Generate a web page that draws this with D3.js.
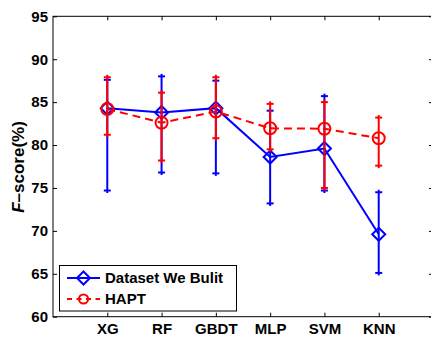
<!DOCTYPE html>
<html><head><meta charset="utf-8">
<script src="https://cdn.jsdelivr.net/npm/d3@7/dist/d3.min.js"></script>
<style>body{margin:0;background:#fff}svg{display:block}text{font-family:Arial,"Liberation Sans",sans-serif;font-weight:bold}</style>
</head><body><svg id="c" width="431" height="337"></svg>
<script>
const categories = ["XG","RF","GBDT","MLP","SVM","KNN"];
const seriesNames = ["Dataset We Bulit","HAPT"];
const ourMean  = [84.3, 83.8, 84.3, 78.6, 79.6, 69.6];
const ourUpper = [87.6, 88.0, 87.5, 84.0, 85.7, 74.5];
const ourLower = [74.7, 76.8, 76.7, 73.2, 74.7, 65.1];
const haptMean  = [84.2, 82.6, 83.9, 81.95, 81.9, 80.8];
const haptUpper = [87.9, 86.1, 87.9, 84.8, 85.0, 83.2];
const haptLower = [81.2, 78.2, 80.8, 79.5, 75.0, 77.6];
const yTicks = [60,65,70,75,80,85,90,95];

const svg = d3.select("#c");
const L=53, T=16.3, R=433, B=316.7;
const x = d3.scaleLinear().domain([0,7]).range([L,R]);
const y = d3.scaleLinear().domain([60,95]).range([B,T]);

svg.append("rect").attr("x",L).attr("y",T).attr("width",R-L).attr("height",B-T)
  .attr("fill","none").attr("stroke","#000").attr("stroke-width",1);

const yAxis = svg.append("g").attr("transform",`translate(${L},0)`)
  .call(d3.axisLeft(y).tickValues(yTicks).tickSize(-4).tickPadding(5));
const yAxisR = svg.append("g").attr("transform",`translate(${R},0)`)
  .call(d3.axisRight(y).tickValues(yTicks).tickSize(-4).tickFormat(""));
const xAxis = svg.append("g").attr("transform",`translate(0,${B})`)
  .call(d3.axisBottom(x).tickValues(d3.range(1,7)).tickSize(-4).tickPadding(7)
  .tickFormat(i=>categories[i-1]));
const xAxisT = svg.append("g").attr("transform",`translate(0,${T})`)
  .call(d3.axisTop(x).tickValues(d3.range(1,7)).tickSize(-4).tickFormat(""));
[yAxis,yAxisR,xAxis,xAxisT].forEach(g=>{g.select(".domain").remove();
  g.selectAll("line").attr("stroke","#000");
  g.selectAll("text").attr("font-size",15).attr("fill","#000")
   .style("font-family","Arial,'Liberation Sans',sans-serif").style("font-weight","bold");});
xAxis.selectAll("text").attr("dy","0.68em");

const yl = svg.append("text").attr("transform","translate(24,167) rotate(-90)")
  .attr("text-anchor","middle").attr("font-size",17).attr("fill","#000");
yl.append("tspan").attr("font-style","italic").text("F");
yl.append("tspan").text("\u2013score(%)");

function drawSeries(mean, up, lo, color, dash, marker){
  const g = svg.append("g");
  const line = d3.line().x((d,i)=>x(i+1)).y(d=>y(d));
  g.append("path").datum(mean).attr("d",line).attr("fill","none")
    .attr("stroke",color).attr("stroke-width",2).attr("stroke-dasharray",dash);
  categories.forEach((c,i)=>{
    const cx=x(i+1);
    g.append("line").attr("x1",cx).attr("x2",cx).attr("y1",y(up[i])-2.5).attr("y2",y(lo[i])+2.5)
      .attr("stroke",color).attr("stroke-width",2);
    [up[i],lo[i]].forEach(v=>{
      g.append("line").attr("x1",cx-3.5).attr("x2",cx+3.5).attr("y1",y(v)).attr("y2",y(v))
        .attr("stroke",color).attr("stroke-width",2);
    });
    marker(g,cx,y(mean[i]),color);
  });
}
function diamond(g,cx,cy,color,s=6.5){
  g.append("path").attr("d",`M${cx},${cy-s}L${cx+s},${cy}L${cx},${cy+s}L${cx-s},${cy}Z`)
    .attr("fill","none").attr("stroke",color).attr("stroke-width",2);
}
function circle(g,cx,cy,color,r=6){
  g.append("circle").attr("cx",cx).attr("cy",cy).attr("r",r)
    .attr("fill","none").attr("stroke",color).attr("stroke-width",2);
}
drawSeries(ourMean,ourUpper,ourLower,"#0000ff",null,(g,cx,cy,c)=>diamond(g,cx,cy,c));
drawSeries(haptMean,haptUpper,haptLower,"#ff0000","8,5",(g,cx,cy,c)=>circle(g,cx,cy,c));

const lg = svg.append("g");
lg.append("rect").attr("x",59.5).attr("y",265.5).attr("width",177).attr("height",45.5)
  .attr("fill","#fff").attr("stroke","#000").attr("stroke-width",1);
const rows=[{name:seriesNames[0],color:"#0000ff",yy:278},{name:seriesNames[1],color:"#ff0000",yy:299}];
rows.forEach((r,k)=>{
  lg.append("line").attr("x1",67).attr("x2",100).attr("y1",r.yy).attr("y2",r.yy)
    .attr("stroke",r.color).attr("stroke-width",2).attr("stroke-dasharray",k?"5,4.5":null);
  if(k===0) diamond(lg,83.5,r.yy,r.color,6.5); else circle(lg,83.5,r.yy,r.color,4.6);
  lg.append("text").attr("x",105).attr("y",r.yy).attr("dy","0.36em").attr("font-size",15)
    .attr("fill","#000").text(r.name);
});
</script></body></html>
